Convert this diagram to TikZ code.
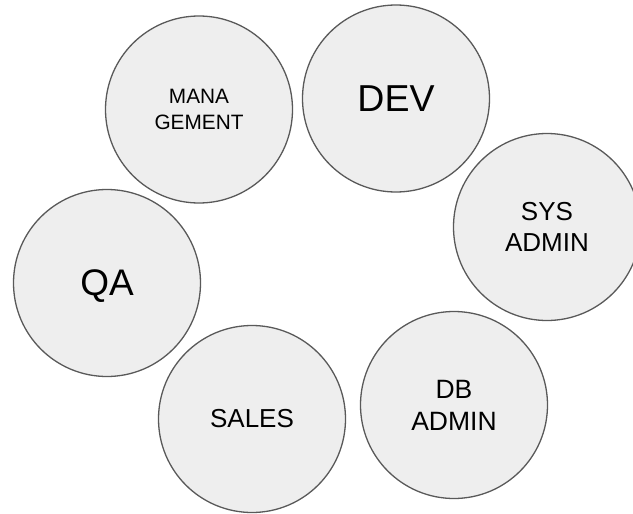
\documentclass[tikz,border=0pt]{standalone}
\usepackage{fontspec}
\setmainfont{Liberation Sans}
\definecolor{teamline}{HTML}{595959}
\definecolor{teamfill}{HTML}{EEEEEE}
\begin{document}
\begin{tikzpicture}[x=1pt,y=-1pt,
  team/.style={circle, draw=teamline, fill=teamfill, line width=1.3pt,
    minimum size=187pt, inner sep=0pt, align=center, text=black}]
  % page frame
  \fill[white] (0,0) rectangle (633,514);
  \useasboundingbox (0,0) rectangle (633,514);
  % team circles
  \node[team, font=\fontsize{20.8}{25.7}\selectfont] (mgmt) at (199,109.5) {MANA\\GEMENT};
  \node[team, font=\fontsize{37.5}{45}\selectfont] (dev) at (396,98.5) {DEV};
  \node[team, font=\fontsize{26}{31.7}\selectfont] (sys) at (547,227) {SYS\\ADMIN};
  \node[team, font=\fontsize{37}{44}\selectfont, text depth=0pt] (qa) at (107,283) {QA};
  \node[team, font=\fontsize{26}{31.7}\selectfont] (sales) at (252,419) {SALES};
  \node[team, font=\fontsize{26.5}{32}\selectfont] (db) at (454,405) {DB\\ADMIN};
\end{tikzpicture}
\end{document}
